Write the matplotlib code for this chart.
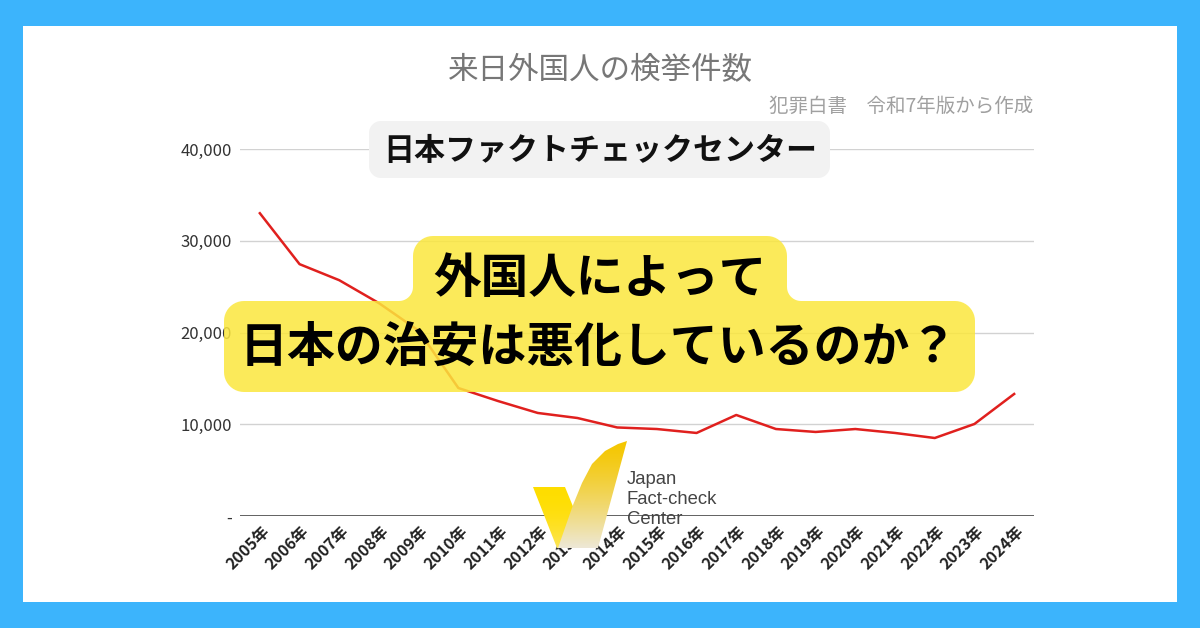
import numpy as np
import matplotlib
matplotlib.use('Agg')
import matplotlib.pyplot as plt
from matplotlib.patches import Polygon, Rectangle
from matplotlib.transforms import ScaledTranslation

plt.rcParams['font.family'] = ['Noto Sans CJK JP', 'DejaVu Sans']

# データ（犯罪白書 令和7年版より、グラフから読み取り）
years = ['2005年', '2006年', '2007年', '2008年', '2009年', '2010年', '2011年',
         '2012年', '2013年', '2014年', '2015年', '2016年', '2017年', '2018年',
         '2019年', '2020年', '2021年', '2022年', '2023年', '2024年']
counts = [33000, 27450, 25700, 23200, 20200, 13950, 12530, 11230, 10680, 9650,
          9480, 9050, 11010, 9480, 9160, 9480, 9050, 8500, 10030, 13300]
yticks = [0, 10000, 20000, 30000, 40000]
ytick_labels = ['-', '10,000', '20,000', '30,000', '40,000']

title = '来日外国人の検挙件数'
source = '犯罪白書　令和7年版から作成'
org_jp = '日本ファクトチェックセンター'
headline1 = '外国人によって'
headline2 = '日本の治安は悪化しているのか？'
logo_text = 'Japan\nFact-check\nCenter'

W, H = 1200, 628
fig = plt.figure(figsize=(W / 100, H / 100), dpi=100)
fig.patch.set_facecolor('#3CB4FC')


def arc(cx, cy, r, a0, a1, n=12):
    t = np.radians(np.linspace(a0, a1, n))
    return list(zip(cx + r * np.cos(t), cy + r * np.sin(t)))


def rrect(x0, y0, x1, y1, r):
    pts = []
    pts += arc(x0 + r, y0 + r, r, 180, 270)
    pts += arc(x1 - r, y0 + r, r, 270, 360)
    pts += arc(x1 - r, y1 - r, r, 0, 90)
    pts += arc(x0 + r, y1 - r, r, 90, 180)
    return pts


# 背景の白パネル
bg = fig.add_axes([0, 0, 1, 1], zorder=0)
bg.set_xlim(0, W)
bg.set_ylim(H, 0)
bg.axis('off')
bg.add_patch(Rectangle((23, 26), W - 46, H - 52, facecolor='white', edgecolor='none'))
bg.text(600, 70, title, ha='center', va='center', fontsize=22, color='#777777')
bg.text(1033, 106, source, ha='right', va='center', fontsize=14, color='#a0a0a0')

# グラフ本体
ax = fig.add_axes([240 / W, 1 - 516 / H, (1034 - 240) / W, (516 - 149) / H], zorder=1)
ax.patch.set_alpha(0)
x = np.arange(len(years))
ax.plot(x, counts, color='#E0201E', lw=1.8, zorder=3)
ax.set_xlim(-0.5, len(years) - 0.5)
ax.set_ylim(0, 40000)
ax.set_yticks(yticks, ytick_labels, fontsize=12, color='#333333')
for v in yticks[1:]:
    ax.axhline(v, color='#d2d2d2', lw=1, zorder=1)
ax.axhline(0, color='#555555', lw=1.3, zorder=2)
for s in ax.spines.values():
    s.set_visible(False)
ax.tick_params(axis='both', length=0)
ax.tick_params(axis='y', pad=6)
ax.tick_params(axis='x', pad=9)
ax.set_xticks(x, years, fontsize=11.5, color='#222222')
off = ScaledTranslation(5 / 72, 0, fig.dpi_scale_trans)
for lab in ax.get_xticklabels():
    lab.set_rotation(45)
    lab.set_ha('right')
    lab.set_va('center')
    lab.set_rotation_mode('anchor')
    lab.set_fontweight('bold')
    lab.set_transform(lab.get_transform() + off)

# 上に重ねる要素
ov = fig.add_axes([0, 0, 1, 1], zorder=2)
ov.set_xlim(0, W)
ov.set_ylim(H, 0)
ov.set_autoscale_on(False)
ov.axis('off')

# グレーのラベル
ov.add_patch(Polygon(rrect(369, 121, 830, 178, 12), closed=True,
                     facecolor='#f2f2f2', edgecolor='none'))
ov.text(600, 151, org_jp, ha='center', va='center', fontsize=22.3,
        fontweight='bold', color='#111111')

# 黄色の見出しボックス（2段をつないだ形）
r, f = 20, 14
lx0, lx1, ly0, ly1 = 224, 975, 301, 392
ux0, ux1, uy0 = 413, 787, 236
shape = []
shape += arc(lx0 + r, ly0 + r, r, 180, 270)
shape += arc(ux0 - f, ly0 - f, f, 90, 0)
shape += arc(ux0 + r, uy0 + r, r, 180, 270)
shape += arc(ux1 - r, uy0 + r, r, 270, 360)
shape += arc(ux1 + f, ly0 - f, f, 180, 90)
shape += arc(lx1 - r, ly0 + r, r, 270, 360)
shape += arc(lx1 - r, ly1 - r, r, 0, 90)
shape += arc(lx0 + r, ly1 - r, r, 90, 180)
ov.add_patch(Polygon(shape, closed=True, facecolor='#FBE73D', alpha=0.85,
                     edgecolor='none'))
ov.text(600, 279, headline1, ha='center', va='center', fontsize=34.3,
        fontweight='bold', color='black')
ov.text(599, 347, headline2, ha='center', va='center', fontsize=34.5,
        fontweight='bold', color='black')


# ロゴ（グラデーションのチェックマーク）
def grad_poly(verts, c_top, c_bot, gamma=1.0):
    poly = Polygon(verts, closed=True, facecolor='none', edgecolor='none')
    ov.add_patch(poly)
    xs = [p[0] for p in verts]
    ys = [p[1] for p in verts]
    t = np.linspace(0, 1, 128)[:, None] ** gamma
    cols = (1 - t) * np.array(c_top) + t * np.array(c_bot)
    im = ov.imshow(cols[:, None, :], extent=(min(xs), max(xs), max(ys), min(ys)),
                   origin='upper', aspect='auto', zorder=5, interpolation='bilinear')
    im.set_clip_path(poly)


left_arm = [(533, 487), (565, 487), (590, 548), (557, 548)]
right_arm = [(558, 548), (566, 525), (573, 505), (582, 483), (592, 464),
             (605, 451), (618, 444), (627, 441), (598, 548)]
grad_poly(left_arm, (1.0, 0.87, 0.0), (0.99, 0.90, 0.35), gamma=2.0)
grad_poly(right_arm, (0.96, 0.78, 0.0), (0.93, 0.91, 0.84), gamma=1.3)
ov.set_xlim(0, W)
ov.set_ylim(H, 0)
ov.text(627, 471, logo_text, ha='left', va='top', fontsize=13.3,
        family='Liberation Sans', color='#444444', linespacing=1.22)

fig.savefig('out.png', dpi=100, facecolor=fig.get_facecolor())
